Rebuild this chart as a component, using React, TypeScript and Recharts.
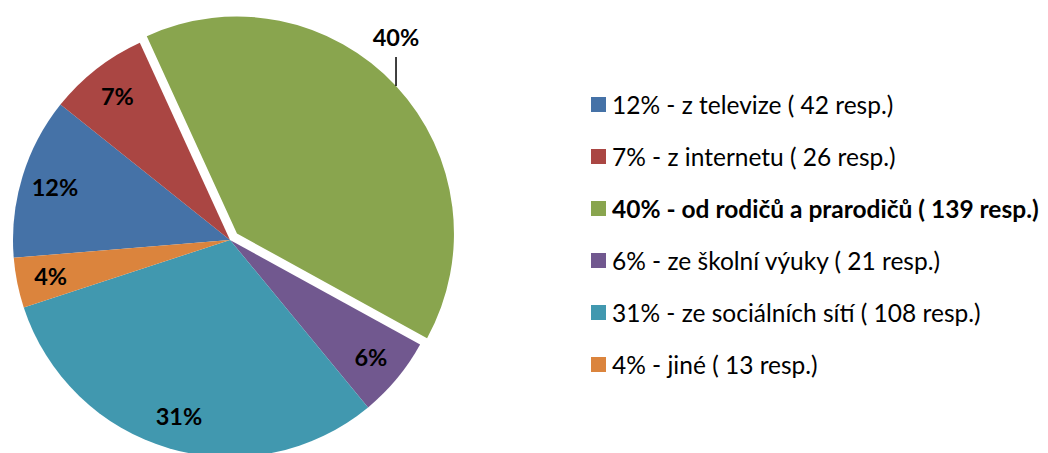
import React from 'react';
import { PieChart, Pie, Cell, Legend } from 'recharts';

const sources = ['z televize', 'z internetu', 'od rodičů a prarodičů', 'ze školní výuky', 'ze sociálních sítí', 'jiné'];
const responses = [42, 26, 139, 21, 108, 13];
const colors = ['#4572A7', '#AA4643', '#89A54E', '#71588F', '#4198AF', '#DB843D'];
const highlighted = 2; // exploded slice, bold in legend

const total = responses.reduce((a, b) => a + b, 0);
const pct = (v: number) => `${Math.round((v / total) * 100)}%`;

const data = sources.map((name, i) => ({ name, value: responses[i] }));

const FONT = 'Lato, "Open Sans", sans-serif';
const RAD = Math.PI / 180;
const CX = 230;
const CY = 240;
const R = 217;
const EXPLODE = 9.5;
const START = 184.7;

// green slice bisector, used to push it out of the pie
const before = responses.slice(0, highlighted).reduce((a, b) => a + b, 0);
const midDeg = START - ((before + responses[highlighted] / 2) / total) * 360;
const dx = EXPLODE * Math.cos(-midDeg * RAD);
const dy = EXPLODE * Math.sin(-midDeg * RAD);

const insideLabel = (props: any) => {
  const { cx, cy, midAngle, index } = props;
  if (index === highlighted) return <g />;
  const r = 183;
  const x = cx + r * Math.cos(-midAngle * RAD);
  const y = cy + r * Math.sin(-midAngle * RAD);
  return (
    <text x={x} y={y} textAnchor="middle" dominantBaseline="central" fontFamily={FONT} fontWeight="bold" fontSize={23.5} fill="#000">
      {pct(responses[index])}
    </text>
  );
};

const outsideLabel = (props: any) => {
  const { cx, cy, midAngle, outerRadius, index } = props;
  if (index !== highlighted) return <g />;
  const x = cx + outerRadius * Math.cos(-midAngle * RAD);
  const y = cy + outerRadius * Math.sin(-midAngle * RAD);
  return (
    <g>
      <line x1={x} y1={y} x2={x} y2={y - 29} stroke="#000" strokeWidth={1.5} />
      <text x={x} y={y - 49} textAnchor="middle" dominantBaseline="central" fontFamily={FONT} fontWeight="bold" fontSize={23.5} fill="#000">
        {pct(responses[index])}
      </text>
    </g>
  );
};

const renderLegend = () => (
  <div style={{ fontFamily: FONT, fontSize: 24.5, color: '#000' }}>
    {sources.map((s, i) => (
      <div key={s} style={{ height: 52, display: 'flex', alignItems: 'center', fontWeight: i === highlighted ? 'bold' : 'normal', whiteSpace: 'nowrap' }}>
        <span style={{ width: 15, height: 15, background: colors[i], display: 'inline-block', marginRight: 6, flexShrink: 0 }} />
        <span>{`${pct(responses[i])} - ${s} ( ${responses[i]} resp.)`}</span>
      </div>
    ))}
  </div>
);

const App: React.FC = () => (
  <div style={{ position: 'absolute', left: 0, top: 0, width: 1048, height: 453, background: '#fff' }}>
    <PieChart width={1048} height={453} margin={{ top: 0, right: 0, bottom: 0, left: 0 }}>
      <Pie
        data={data}
        dataKey="value"
        cx={CX}
        cy={CY}
        outerRadius={R}
        startAngle={START}
        endAngle={START - 360}
        stroke="none"
        label={insideLabel}
        labelLine={false}
        isAnimationActive={false}
      >
        {data.map((d, i) => (
          <Cell key={d.name} fill={i === highlighted ? 'none' : colors[i]} stroke="none" />
        ))}
      </Pie>
      <Pie
        data={data}
        dataKey="value"
        cx={CX + dx}
        cy={CY + dy}
        outerRadius={R}
        startAngle={START}
        endAngle={START - 360}
        stroke="none"
        label={outsideLabel}
        labelLine={false}
        isAnimationActive={false}
        legendType="none"
      >
        {data.map((d, i) => (
          <Cell key={d.name} fill={i === highlighted ? colors[i] : 'none'} stroke="none" />
        ))}
      </Pie>
      <Legend
        content={renderLegend}
        wrapperStyle={{ position: 'absolute', left: 591, top: 78, width: 457 }}
      />
    </PieChart>
  </div>
);

export default App;
